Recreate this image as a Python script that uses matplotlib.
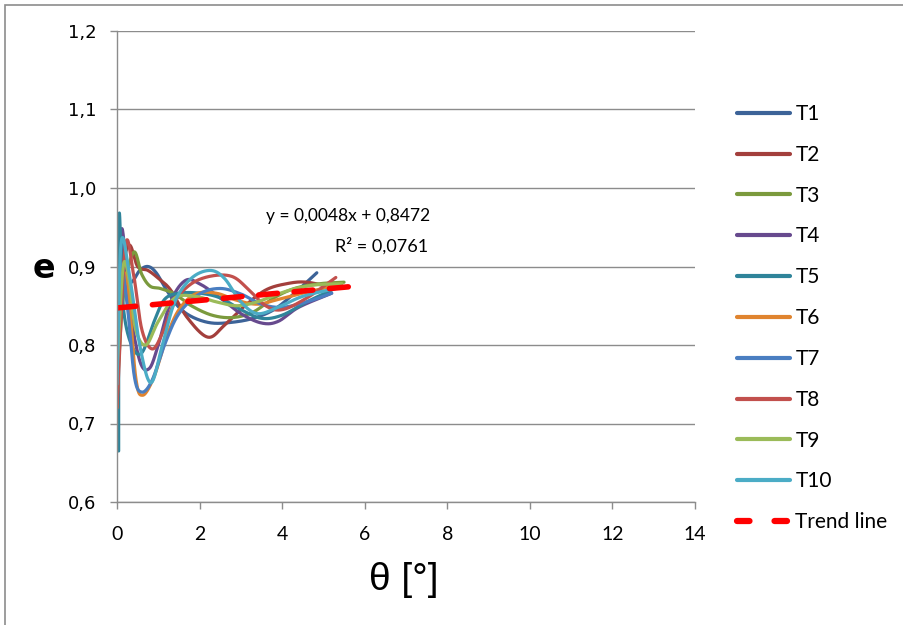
import numpy as np
import matplotlib
matplotlib.use("Agg")
import matplotlib.pyplot as plt
from matplotlib.lines import Line2D
from matplotlib.patches import Rectangle

# --- measured curves: rotation angle theta [deg] vs. coefficient e ---
t1_x = [0.0, 0.08, 0.2, 0.35, 0.55, 0.75, 0.95, 1.2, 1.5, 1.85, 2.3, 2.8, 3.3, 3.8, 4.3, 4.84]
t1_e = [0.80, 0.93, 0.89, 0.88, 0.895, 0.90, 0.892, 0.87, 0.848, 0.835, 0.828, 0.829, 0.834, 0.845, 0.866, 0.892]

t2_x = [0.0, 0.12, 0.3, 0.5, 0.75, 1.0, 1.3, 1.7, 2.2, 2.6, 3.1, 3.6, 4.1, 4.6, 5.3]
t2_e = [0.78, 0.89, 0.927, 0.90, 0.895, 0.885, 0.87, 0.835, 0.81, 0.825, 0.85, 0.87, 0.878, 0.88, 0.872]

t3_x = [0.0, 0.15, 0.4, 0.6, 0.8, 1.05, 1.4, 1.8, 2.3, 2.8, 3.3, 3.8, 4.3, 4.9, 5.5]
t3_e = [0.74, 0.86, 0.918, 0.89, 0.875, 0.872, 0.865, 0.85, 0.838, 0.835, 0.842, 0.86, 0.872, 0.878, 0.88]

t4_x = [0.0, 0.1, 0.3, 0.55, 0.78, 1.0, 1.3, 1.65, 2.0, 2.5, 3.0, 3.5, 3.9, 4.4, 5.2]
t4_e = [0.70, 0.944, 0.85, 0.78, 0.77, 0.80, 0.855, 0.882, 0.878, 0.86, 0.84, 0.828, 0.83, 0.848, 0.866]

t5_x = [0.04, 0.05, 0.15, 0.35, 0.6, 0.9, 1.15, 1.5, 2.0, 2.5, 3.0, 3.5, 4.0, 4.6, 5.2]
t5_e = [0.665, 0.963, 0.85, 0.80, 0.79, 0.83, 0.858, 0.866, 0.866, 0.86, 0.845, 0.834, 0.838, 0.855, 0.87]

t6_x = [0.0, 0.1, 0.25, 0.45, 0.62, 0.9, 1.2, 1.5, 1.9, 2.4, 2.9, 3.4, 3.9, 4.5, 5.3]
t6_e = [0.72, 0.87, 0.88, 0.76, 0.736, 0.76, 0.81, 0.845, 0.865, 0.866, 0.857, 0.852, 0.858, 0.866, 0.876]

t7_x = [0.0, 0.08, 0.25, 0.42, 0.6, 0.85, 1.15, 1.5, 2.0, 2.5, 3.0, 3.5, 4.0, 4.6, 5.2]
t7_e = [0.76, 0.90, 0.85, 0.76, 0.74, 0.755, 0.80, 0.84, 0.865, 0.872, 0.865, 0.852, 0.848, 0.855, 0.866]

t8_x = [0.0, 0.2, 0.4, 0.6, 0.85, 1.1, 1.4, 1.8, 2.3, 2.8, 3.2, 3.6, 4.0, 4.6, 5.3]
t8_e = [0.72, 0.925, 0.89, 0.82, 0.795, 0.815, 0.855, 0.878, 0.888, 0.887, 0.87, 0.85, 0.845, 0.86, 0.886]

t9_x = [0.0, 0.15, 0.3, 0.45, 0.7, 1.0, 1.4, 1.9, 2.4, 2.9, 3.4, 3.9, 4.4, 4.9, 5.45]
t9_e = [0.77, 0.90, 0.88, 0.82, 0.80, 0.83, 0.86, 0.862, 0.855, 0.85, 0.855, 0.865, 0.873, 0.877, 0.878]

t10_x = [0.0, 0.1, 0.3, 0.55, 0.82, 1.1, 1.4, 1.8, 2.25, 2.6, 3.0, 3.4, 3.9, 4.5, 5.3]
t10_e = [0.75, 0.93, 0.89, 0.80, 0.752, 0.80, 0.855, 0.885, 0.895, 0.885, 0.855, 0.84, 0.848, 0.862, 0.872]

series_names = ["T1", "T2", "T3", "T4", "T5", "T6", "T7", "T8", "T9", "T10"]
series_x = [t1_x, t2_x, t3_x, t4_x, t5_x, t6_x, t7_x, t8_x, t9_x, t10_x]
series_e = [t1_e, t2_e, t3_e, t4_e, t5_e, t6_e, t7_e, t8_e, t9_e, t10_e]
series_colors = ["#3C6398", "#A33F3C", "#7B9A3D", "#674A8E", "#2F849A",
                 "#E0842F", "#4A7EC1", "#C2504D", "#9BBB59", "#4BACC6"]

# linear trend fitted to all points
trend_slope = 0.0048
trend_intercept = 0.8472
trend_r2 = 0.0761
trend_x = [0.0, 6.0]

x_ticks = [0, 2, 4, 6, 8, 10, 12, 14]
y_ticks = [0.6, 0.7, 0.8, 0.9, 1.0, 1.1, 1.2]


def smooth(x, y, sx, sy, n=24):
    """Catmull-Rom smoothing of a polyline (like a spreadsheet 'smoothed line')."""
    p = np.column_stack([np.asarray(x) * sx, np.asarray(y) * sy])
    p = np.vstack([2 * p[0] - p[1], p, 2 * p[-1] - p[-2]])
    out = []
    t = np.linspace(0, 1, n, endpoint=False)[:, None]
    for i in range(1, len(p) - 2):
        p0, p1, p2, p3 = p[i - 1], p[i], p[i + 1], p[i + 2]
        seg = 0.5 * ((2 * p1) + (-p0 + p2) * t + (2 * p0 - 5 * p1 + 4 * p2 - p3) * t ** 2
                     + (-p0 + 3 * p1 - 3 * p2 + p3) * t ** 3)
        out.append(seg)
    out.append(p[-2][None, :])
    out = np.vstack(out)
    return out[:, 0] / sx, out[:, 1] / sy


fig = plt.figure(figsize=(9.04, 6.25), dpi=100)
ax = fig.add_axes([117 / 904, 1 - 502 / 625, (695 - 117) / 904, (502 - 31) / 625])

ax.set_xlim(0, 14)
ax.set_ylim(0.6, 1.2)

grid_c = "#8C8C8C"
ax.set_yticks(y_ticks)
ax.set_xticks(x_ticks)
ax.yaxis.grid(True, color=grid_c, linewidth=1.0)
ax.set_axisbelow(True)
for s in ["top", "right"]:
    ax.spines[s].set_visible(False)
for s in ["left", "bottom"]:
    ax.spines[s].set_color(grid_c)
    ax.spines[s].set_linewidth(1.0)

label_font = ["Lato", "DejaVu Sans"]
ax.set_yticklabels([f"{v:.1f}".replace(".", ",") for v in y_ticks],
                   family=["DejaVu Sans"], fontsize=13)
ax.set_xticklabels([str(v) for v in x_ticks], family=label_font, fontsize=14)
ax.tick_params(axis="y", direction="out", length=5, width=1, color=grid_c, pad=10)
ax.tick_params(axis="x", direction="out", length=5, width=1, color=grid_c, pad=12)

# pixel-proportional scaling so the smoothing behaves like on screen
sx, sy = 41.3, 785.0
handles = []
for name, xs, es, c in zip(series_names, series_x, series_e, series_colors):
    xx, yy = smooth(xs, es, sx, sy)
    ax.plot(xx, yy, color=c, linewidth=2.3, solid_capstyle="round", solid_joinstyle="round")
    handles.append(Line2D([], [], color=c, linewidth=3.0, solid_capstyle="round"))

tx = np.array(trend_x)
ax.plot(tx, trend_slope * tx + trend_intercept, color="#FF0000", linewidth=4.0,
        dashes=(3.4, 3.0), dash_capstyle="round")
handles.append(Line2D([], [], color="#FF0000", linewidth=4.5, dashes=(2.0, 4.0),
                      dash_capstyle="round"))

fig.text(430 / 904, 1 - 216 / 625, "y = 0,0048x + 0,8472", ha="right", va="center",
         fontsize=12.5, family=label_font)
fig.text(428 / 904, 1 - 246 / 625, "R² = 0,0761", ha="right", va="center",
         fontsize=13, family=label_font)

fig.text(44 / 904, 1 - 268 / 625, "e", ha="center", va="center", fontsize=24,
         fontweight="bold", family=["DejaVu Sans"])
fig.text(404 / 904, 1 - 580 / 625, "θ [°]", ha="center", va="center", fontsize=28,
         family=["Liberation Sans", "DejaVu Sans"])

leg = fig.legend(handles, series_names + ["Trend line"], loc="upper left",
                 bbox_to_anchor=(737 / 904, 1 - 104 / 625), frameon=False,
                 prop={"family": label_font, "size": 15},
                 handlelength=2.55, handletextpad=0.25, labelspacing=1.0,
                 borderaxespad=0, borderpad=0)

# outer chart-area border
fig.add_artist(Rectangle((5 / 904, -0.05), 1.2, 1 - 5 / 625 + 0.05, transform=fig.transFigure,
                         fill=False, edgecolor="#8C8C8C", linewidth=1.2))

fig.savefig("out.png", dpi=100)
